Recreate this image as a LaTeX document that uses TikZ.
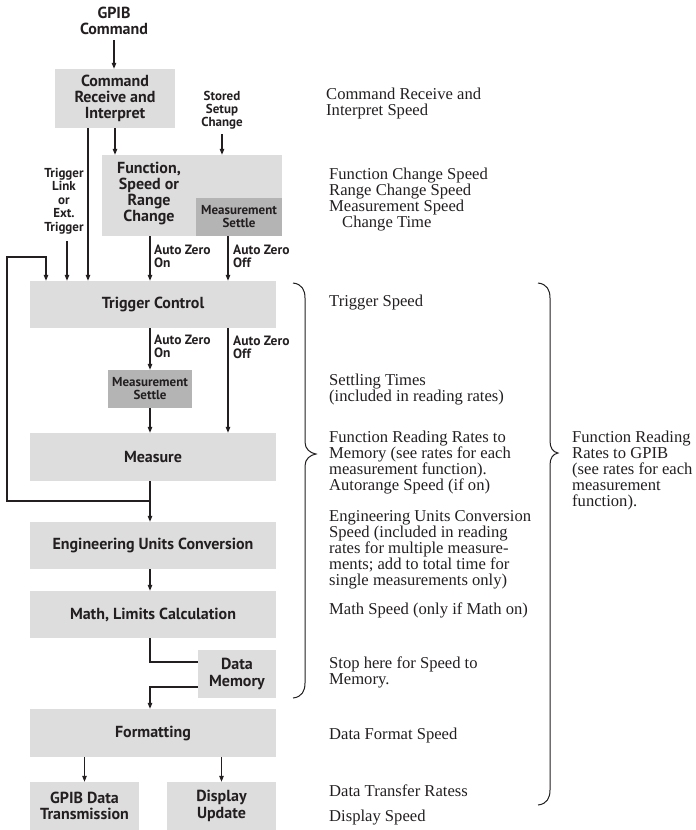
\documentclass[tikz,border=0pt]{standalone}
\usepackage{fontspec}
\setmainfont{Liberation Serif}
\newfontfamily\boxfont{PT Sans}
\usetikzlibrary{arrows.meta}
\definecolor{lightbox}{RGB}{221,221,222}
\definecolor{darkbox}{RGB}{180,180,181}
\definecolor{ink}{RGB}{35,31,32}
\begin{document}
\begin{tikzpicture}[x=1pt,y=-1pt,
  lbox/.style={fill=lightbox, draw=none, inner sep=0pt, text=ink, align=center,
    font=\boxfont\bfseries\fontsize{16}{16.3}\selectfont},
  dbox/.style={fill=darkbox, draw=none, inner sep=0pt, text=ink, align=center,
    font=\boxfont\bfseries\fontsize{13}{13}\selectfont},
  bigtxt/.style={inner sep=0pt, text=ink, align=center,
    font=\boxfont\bfseries\fontsize{16}{16}\selectfont},
  smalltxt/.style={inner sep=0pt, text=ink, align=center,
    font=\boxfont\bfseries\fontsize{13}{13}\selectfont},
  aztxt/.style={smalltxt, align=left, anchor=north west,
    font=\boxfont\bfseries\fontsize{13.5}{12.5}\selectfont},
  note/.style={inner sep=0pt, text=ink, align=left, anchor=north west,
    font=\fontsize{16.6}{16}\selectfont},
  ln/.style={draw=ink, line width=1.1pt},
  arr/.style={ln, -{Triangle[length=6pt,width=4.5pt]}},
  brace/.style={draw=ink, line width=1pt}
]
\useasboundingbox (0,0) rectangle (696,830);

% columns
\coordinate (cA) at (150,0);
\coordinate (cB) at (228,0);
\coordinate (cT) at (67,0);
\coordinate (cC) at (88,0);
\coordinate (cF) at (46,0);
\coordinate (fb) at (150,501);

% nodes
\node[bigtxt] (gpib) at (114,21) {GPIB\\Command};
\node[lbox, minimum width=120pt, minimum height=59pt] (cmd) at (115,98.5) {Command\\Receive and\\Interpret};
\node[smalltxt] (stored) at (222,110) {Stored\\Setup\\Change};
\node[lbox, minimum width=180pt, minimum height=81pt] (func) at (192,195.5) {};
\node[bigtxt] (functxt) at (149,193.5) {Function,\\Speed or\\Range\\Change};
\node[dbox, minimum width=86pt, minimum height=38pt] (mset1) at (239,217) {Measurement\\Settle};
\node[smalltxt, font=\boxfont\bfseries\fontsize{13}{13.5}\selectfont] (trig) at (64,201) {Trigger\\Link\\or\\Ext.\\Trigger};
\node[lbox, minimum width=246pt, minimum height=47pt] (trigc) at (153,304.5) {Trigger Control};
\node[dbox, minimum width=84pt, minimum height=38pt] (mset2) at (150,389) {Measurement\\Settle};
\node[lbox, minimum width=246pt, minimum height=48pt] (meas) at (153,457) {Measure};
\node[lbox, minimum width=246pt, minimum height=47pt] (eng) at (153,545.5) {Engineering Units Conversion};
\node[lbox, minimum width=246pt, minimum height=47pt] (math) at (153,614.5) {Math, Limits Calculation};
\node[lbox, minimum width=78pt, minimum height=48pt] (dmem) at (237,674) {Data\\Memory};
\node[lbox, minimum width=246pt, minimum height=48pt] (fmt) at (153,733) {Formatting};
\node[lbox, minimum width=109pt, minimum height=48pt] (gtx) at (84.5,806) {GPIB Data\\Transmission};
\node[lbox, minimum width=109pt, minimum height=48pt] (disp) at (221.5,806) {Display\\Update};

\node[aztxt] (az1) at (154,245) {Auto Zero\\On};
\node[aztxt] (az2) at (233,245) {Auto Zero\\Off};
\node[aztxt] (az3) at (154,335) {Auto Zero\\On};
\node[aztxt] (az4) at (233,336) {Auto Zero\\Off};

% connectors
\draw[arr, shorten <=5pt] (gpib.south) -- (gpib.south |- cmd.north);
\draw[arr] (cmd.south) -- (cmd.south |- func.north);
\draw[arr, shorten <=5pt] (stored.south) -- (stored.south |- func.north);
\draw[arr] (cC |- cmd.south) -- (cC |- trigc.north);
\draw[arr, shorten <=7pt] (cT |- trig.south) -- (cT |- trigc.north);
\draw[arr] (cA |- func.south) -- (cA |- trigc.north);
\draw[arr] (cB |- mset1.south) -- (cB |- trigc.north);
\draw[arr] (fb) -| (7,257) -| (cF |- trigc.north);
\draw[arr] (cA |- trigc.south) -- (mset2.north);
\draw[arr] (mset2.south) -- (mset2.south |- meas.north);
\draw[arr] (cB |- trigc.south) -- (cB |- meas.north);
\draw[arr] (cA |- meas.south) -- (cA |- eng.north);
\draw[arr] (cA |- eng.south) -- (cA |- math.north);
\draw[ln] (cA |- math.south) |- ([yshift=12pt]dmem.west);
\draw[arr] ([yshift=-13pt]dmem.west) -| (cA |- fmt.north);
\draw[arr] (gtx.north |- fmt.south) -- (gtx.north);
\draw[arr] (disp.north |- fmt.south) -- (disp.north);

% braces
\draw[brace] (293,283) .. controls (302,284) and (305,290) .. (305,298)
  -- (305,442) .. controls (305,449) and (310,453) .. (316,454)
  .. controls (310,455) and (305,459) .. (305,466)
  -- (305,683) .. controls (305,691) and (302,697) .. (293,698);
\draw[brace] (538,283) .. controls (547,284) and (550,290) .. (550,298)
  -- (550,441) .. controls (550,448) and (553,452) .. (558,453)
  .. controls (553,454) and (550,458) .. (550,465)
  -- (550,790) .. controls (550,798) and (547,804) .. (538,805);

% notes
\node[note] (n1) at (326,87.5) {Command Receive and\\Interpret Speed};
\node[note] (n2) at (329,167.5) {Function Change Speed\\Range Change Speed\\Measurement Speed\\\hspace*{13pt}Change Time};
\node[note] (n3) at (329,294.5) {Trigger Speed};
\node[note] (n4) at (329,373.5) {Settling Times\\(included in reading rates)};
\node[note] (n5) at (329,430.5) {Function Reading Rates to\\Memory (see rates for each\\measurement function).\\Autorange Speed (if on)};
\node[note] (n6) at (329,510.5) {Engineering Units Conversion\\Speed (included in reading\\rates for multiple measure-\\ments; add to total time for\\single measurements only)};
\node[note] (n7) at (329,602.5) {Math Speed (only if Math on)};
\node[note] (n8) at (329,656.5) {Stop here for Speed to\\Memory.};
\node[note] (n9) at (329,727.5) {Data Format Speed};
\node[note] (n10) at (329,784.5) {Data Transfer Ratess};
\node[note] (n11) at (329,809.5) {Display Speed};
\node[note] (n12) at (572,430.5) {Function Reading\\Rates to GPIB\\(see rates for each\\measurement\\function).};
\end{tikzpicture}
\end{document}
